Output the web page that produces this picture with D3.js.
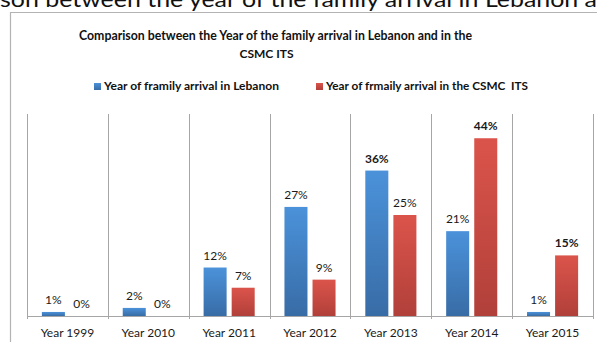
<!DOCTYPE html>
<html>
<head>
<meta charset="utf-8">
<script src="https://cdn.jsdelivr.net/npm/d3@7"></script>
<style>
  html, body { margin: 0; padding: 0; background: #fff; }
  svg { display: block; }
  text { font-family: Lato, "Open Sans", "Noto Sans", "DejaVu Sans", sans-serif; }
</style>
</head>
<body>
<svg id="chart" width="597" height="342"></svg>
<script>
// Data
const categories = ["Year 1999", "Year 2010", "Year 2011", "Year 2012", "Year 2013", "Year 2014", "Year 2015"];
const seriesNames = ["Year of framily arrival in Lebanon", "Year of frmaily arrival in the CSMC  ITS"];
const lebanonValues = [1, 2, 12, 27, 36, 21, 1];
const csmcValues = [0, 0, 7, 9, 25, 44, 15];
// labels printed in bold
const boldLabels = [[4], [5, 6]];
const titleLines = ["Comparison between the Year of the family arrival in Lebanon and in the", "CSMC ITS"];
const headingText = "son between the year of the family arrival in Lebanon a";

const seriesValues = [lebanonValues, csmcValues];
const colors = [
  { top: "#4b92da", bottom: "#386ca6" },
  { top: "#db544b", bottom: "#b1403a" }
];

const svg = d3.select("#chart");
const W = 597, H = 342;

// gradients
const defs = svg.append("defs");
colors.forEach((c, i) => {
  const g = defs.append("linearGradient")
    .attr("id", "grad" + i).attr("x1", 0).attr("y1", 0).attr("x2", 0).attr("y2", 1);
  g.append("stop").attr("offset", "0%").attr("stop-color", c.top);
  g.append("stop").attr("offset", "100%").attr("stop-color", c.bottom);
});

// Surrounding document heading, running off the top edge
svg.append("text")
  .attr("x", 0).attr("y", 7)
  .attr("textLength", 597).attr("lengthAdjust", "spacingAndGlyphs")
  .attr("font-size", 22).attr("fill", "#111")
  .text(headingText);

// Chart frame
svg.append("path")
  .attr("d", `M${W + 2},12.5 H10.5 V${H + 2}`)
  .attr("fill", "none").attr("stroke", "#b3b3b3").attr("stroke-width", 1.2);

// Title
svg.append("text")
  .attr("x", 275.5).attr("y", 39.5)
  .attr("text-anchor", "middle")
  .attr("font-size", 12.5).attr("font-weight", "bold").attr("fill", "#111")
  .attr("textLength", 393).attr("lengthAdjust", "spacingAndGlyphs")
  .text(titleLines[0]);
svg.append("text")
  .attr("x", 266.5).attr("y", 57.5)
  .attr("text-anchor", "middle")
  .attr("font-size", 12).attr("font-weight", "bold").attr("fill", "#111")
  .text(titleLines[1]);

// Legend
const legendItems = [
  { sq: 94, tx: 104, tw: 175 },
  { sq: 316, tx: 326, tw: 202 }
];
legendItems.forEach((l, i) => {
  svg.append("rect")
    .attr("x", l.sq).attr("y", 83).attr("width", 7).attr("height", 7)
    .attr("fill", `url(#grad${i})`);
  svg.append("text")
    .attr("x", l.tx).attr("y", 90)
    .attr("font-size", 10.5).attr("font-weight", "bold").attr("fill", "#111")
    .attr("textLength", l.tw).attr("lengthAdjust", "spacingAndGlyphs")
    .attr("xml:space", "preserve")
    .text(seriesNames[i]);
});

// Scales
const plotLeft = 27, plotRight = 593, plotTop = 114, plotBottom = 316;
const x0 = d3.scaleBand().domain(categories).range([plotLeft, plotRight]).padding(0);
const x1 = d3.scaleBand().domain([0, 1]).range([0, x0.bandwidth()])
  .paddingInner(0.18).paddingOuter(0.53);
const y = d3.scaleLinear().domain([0, 50]).range([plotBottom, plotTop]);

// Vertical category separators
const seps = categories.map(c => x0(c)).concat([plotRight]);
svg.append("g").selectAll("line").data(seps).join("line")
  .attr("x1", d => Math.round(d) + 0.5).attr("x2", d => Math.round(d) + 0.5)
  .attr("y1", plotTop).attr("y2", plotBottom + 3)
  .attr("stroke", "#a6a6a6").attr("stroke-width", 1);

// Bars
const barData = [];
categories.forEach((c, ci) => {
  seriesValues.forEach((vals, si) => {
    barData.push({ cat: c, series: si, value: vals[ci], bold: boldLabels[si].includes(ci) });
  });
});

svg.append("g").selectAll("rect").data(barData.filter(d => d.value > 0)).join("rect")
  .attr("x", d => x0(d.cat) + x1(d.series))
  .attr("width", x1.bandwidth())
  .attr("y", d => y(d.value))
  .attr("height", d => plotBottom - y(d.value))
  .attr("fill", d => `url(#grad${d.series})`);

// Baseline axis
svg.append("line")
  .attr("x1", plotLeft).attr("x2", plotRight)
  .attr("y1", plotBottom + 0.5).attr("y2", plotBottom + 0.5)
  .attr("stroke", "#a6a6a6").attr("stroke-width", 1);

// Value labels
svg.append("g").selectAll("text").data(barData).join("text")
  .attr("x", d => x0(d.cat) + x1(d.series) + x1.bandwidth() / 2)
  .attr("y", d => y(d.value) - 8)
  .attr("text-anchor", "middle")
  .attr("font-size", 12)
  .attr("font-weight", d => d.bold ? "bold" : "normal")
  .attr("fill", "#1a1a1a")
  .text(d => d.value + "%");

// Category labels
svg.append("g").selectAll("text").data(categories).join("text")
  .attr("x", d => x0(d) + x0.bandwidth() / 2)
  .attr("y", 336.5)
  .attr("text-anchor", "middle")
  .attr("font-size", 12).attr("fill", "#1a1a1a")
  .text(d => d);
</script>
</body>
</html>
